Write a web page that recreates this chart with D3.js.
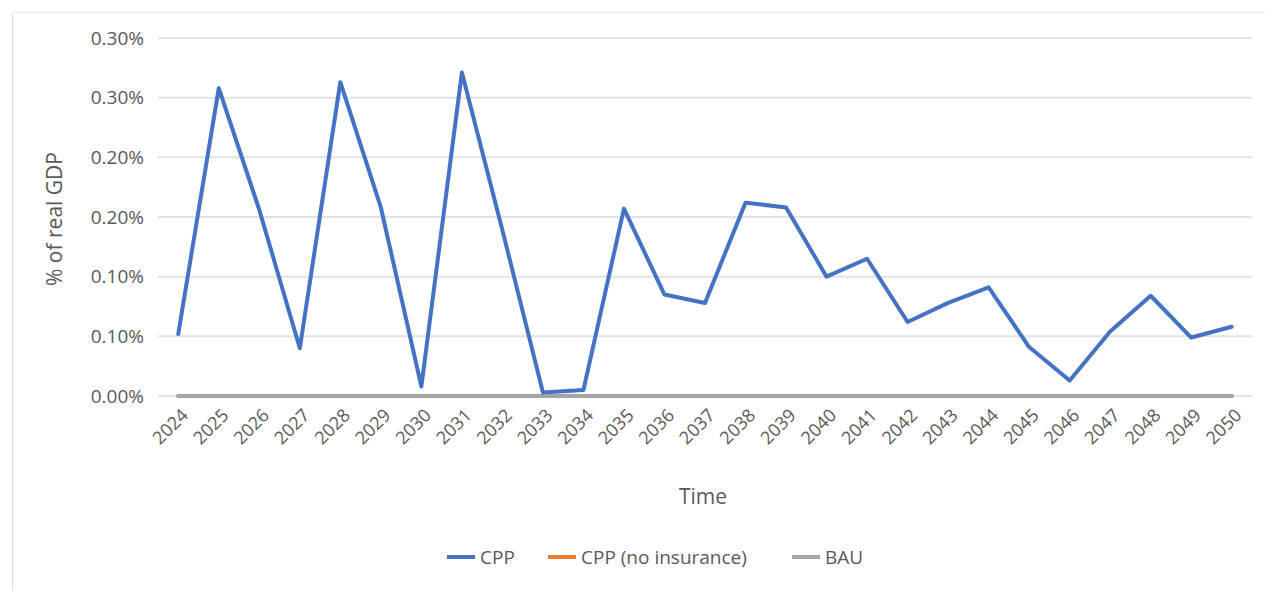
<!DOCTYPE html>
<html>
<head>
<meta charset="utf-8">
<script src="https://cdn.jsdelivr.net/npm/d3@7"></script>
<style>
  html, body { margin: 0; padding: 0; background: #fff; }
  svg { display: block; }
  text { font-family: "Open Sans", "Noto Sans", sans-serif; fill: #595959; }
</style>
</head>
<body>
<svg id="chart" width="1265" height="591"></svg>
<script>
// Years on the category axis
const years = ["2024","2025","2026","2027","2028","2029","2030","2031","2032","2033","2034","2035","2036","2037","2038","2039","2040","2041","2042","2043","2044","2045","2046","2047","2048","2049","2050"];

// Cost as % of real GDP per scenario
const cpp = [0.052, 0.258, 0.156, 0.040, 0.263, 0.158, 0.008, 0.271, 0.139, 0.003, 0.005, 0.157, 0.085, 0.078, 0.162, 0.158, 0.100, 0.115, 0.062, 0.078, 0.091, 0.041, 0.013, 0.054, 0.084, 0.049, 0.058];
const cppNoInsurance = [0, 0, 0, 0, 0, 0, 0, 0, 0, 0, 0, 0, 0, 0, 0, 0, 0, 0, 0, 0, 0, 0, 0, 0, 0, 0, 0];
const bau = [0, 0, 0, 0, 0, 0, 0, 0, 0, 0, 0, 0, 0, 0, 0, 0, 0, 0, 0, 0, 0, 0, 0, 0, 0, 0, 0];

// Y axis tick values and their printed labels (labels are rounded to 1 decimal in the source workbook)
const yTicks = [0, 0.05, 0.10, 0.15, 0.20, 0.25, 0.30];
const yTickLabels = ["0.00%", "0.10%", "0.10%", "0.20%", "0.20%", "0.30%", "0.30%"];

const seriesNames = ["CPP", "CPP (no insurance)", "BAU"];
const seriesColors = ["#4472c4", "#ed7d31", "#a5a5a5"];

const svg = d3.select("#chart");

// chart frame edges
svg.append("line").attr("x1", 12.5).attr("x2", 12.5).attr("y1", 12).attr("y2", 591)
  .attr("stroke", "#e4e4e4").attr("stroke-width", 1.5);
svg.append("line").attr("x1", 12).attr("x2", 1265).attr("y1", 12.5).attr("y2", 12.5)
  .attr("stroke", "#ececec").attr("stroke-width", 1.5);

const plot = { left: 158, right: 1252, top: 38, bottom: 396 };

const x = d3.scalePoint().domain(years).range([plot.left, plot.right]).padding(0.5);
const y = d3.scaleLinear().domain([0, 0.30]).range([plot.bottom, plot.top]);

// horizontal gridlines
svg.append("g").selectAll("line").data(yTicks).join("line")
  .attr("x1", plot.left).attr("x2", plot.right)
  .attr("y1", d => y(d)).attr("y2", d => y(d))
  .attr("stroke", "#e2e2e2").attr("stroke-width", 2);

// y axis labels
const yAxis = d3.axisLeft(y).tickValues(yTicks)
  .tickFormat((d, i) => yTickLabels[i]).tickSize(0).tickPadding(0);
const yG = svg.append("g").attr("transform", `translate(${plot.left - 14},0)`).call(yAxis);
yG.select(".domain").remove();
yG.selectAll("text").attr("font-size", 19).attr("fill", "#595959")
  .style("font-family", '"Open Sans", sans-serif');

// x axis labels, rotated
const xAxis = d3.axisBottom(x).tickSize(0).tickPadding(0);
const xG = svg.append("g").attr("transform", `translate(0,${plot.bottom})`).call(xAxis);
xG.select(".domain").remove();
xG.selectAll("text")
  .attr("font-size", 18).attr("fill", "#595959")
  .style("font-family", '"Open Sans", sans-serif')
  .attr("text-anchor", "end")
  .attr("dy", "0.35em")
  .attr("transform", "translate(6,16) rotate(-45)");

// axis titles
svg.append("text").attr("x", 703).attr("y", 504).attr("text-anchor", "middle")
  .attr("font-size", 21).text("Time");
svg.append("text").attr("transform", "translate(62,219) rotate(-90)")
  .attr("text-anchor", "middle").attr("font-size", 21).text("% of real GDP");

// series lines (drawn so BAU sits on top of the no-insurance line)
const line = d3.line().x((d, i) => x(years[i])).y(d => y(d));
const allSeries = [cpp, cppNoInsurance, bau];
[1, 2, 0].forEach(k => {
  svg.append("path").datum(allSeries[k])
    .attr("d", line)
    .attr("fill", "none")
    .attr("stroke", seriesColors[k])
    .attr("stroke-width", 4)
    .attr("stroke-linejoin", "round")
    .attr("stroke-linecap", "round");
});

// legend
const legendItems = [
  { name: seriesNames[0], color: seriesColors[0], x: 447 },
  { name: seriesNames[1], color: seriesColors[1], x: 548 },
  { name: seriesNames[2], color: seriesColors[2], x: 792 }
];
const lg = svg.append("g").selectAll("g").data(legendItems).join("g")
  .attr("transform", d => `translate(${d.x},557)`);
lg.append("line").attr("x1", 0).attr("x2", 28).attr("y1", 0).attr("y2", 0)
  .attr("stroke", d => d.color).attr("stroke-width", 4);
lg.append("text").attr("x", 33).attr("dy", "0.35em").attr("font-size", 19).text(d => d.name);
</script>
</body>
</html>
